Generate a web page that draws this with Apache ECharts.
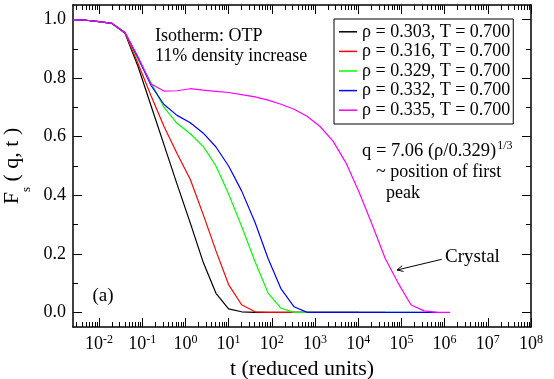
<!DOCTYPE html>
<html>
<head>
<meta charset="utf-8">
<script src="https://cdn.jsdelivr.net/npm/echarts@6/dist/echarts.min.js"></script>
<style>
html,body{margin:0;padding:0;background:#fff;}
#chart{width:554px;height:379px;}
</style>
</head>
<body>
<div id="chart"></div>
<script>
// ---- data ----
const times = [0.0025, 0.005, 0.01, 0.02, 0.04, 0.08, 0.16, 0.32, 0.64, 1.3, 2.6, 5.1, 10, 20, 41, 82, 164, 328, 655, 1310, 2620, 5240, 10500, 21000, 42000, 84000, 168000, 336000, 671000, 1340000];
const seriesNames = ['ρ = 0.303, T = 0.700', 'ρ = 0.316, T = 0.700', 'ρ = 0.329, T = 0.700', 'ρ = 0.332, T = 0.700', 'ρ = 0.335, T = 0.700'];
const rho303 = [1.0, 0.998, 0.993, 0.987, 0.953, 0.84, 0.706, 0.572, 0.438, 0.305, 0.17, 0.065, 0.012, 0.002, 0, 0, 0, 0, 0, 0, 0, 0, 0];
const rho316 = [1.0, 0.998, 0.993, 0.987, 0.954, 0.85, 0.74, 0.635, 0.543, 0.454, 0.333, 0.21, 0.095, 0.026, 0.002, 0, 0, 0, 0, 0, 0, 0, 0, 0, 0];
const rho329 = [1.0, 0.998, 0.993, 0.987, 0.955, 0.865, 0.785, 0.70, 0.646, 0.61, 0.566, 0.50, 0.404, 0.294, 0.173, 0.066, 0.014, 0, 0, 0, 0, 0, 0, 0, 0, 0, 0, 0];
const rho332 = [1.0, 0.998, 0.993, 0.987, 0.956, 0.87, 0.775, 0.71, 0.673, 0.648, 0.612, 0.565, 0.50, 0.415, 0.307, 0.184, 0.08, 0.019, 0, 0, 0, 0, 0, 0, 0, 0, 0, 0, 0];
const rho335 = [1.0, 0.998, 0.993, 0.987, 0.956, 0.873, 0.78, 0.756, 0.757, 0.764, 0.759, 0.755, 0.751, 0.744, 0.736, 0.725, 0.711, 0.694, 0.67, 0.635, 0.585, 0.51, 0.41, 0.30, 0.185, 0.10, 0.025, 0.005, 0, 0];
const seriesColors = ['#000000', '#ff0000', '#00ff00', '#0000ff', '#ff00ff'];
const xMajorTicks = [0.01, 0.1, 1, 10, 100, 1e3, 1e4, 1e5, 1e6, 1e7, 1e8];
const xMinorTicks = [0.003,0.004,0.005,0.006,0.007,0.008,0.009,
  0.02,0.03,0.04,0.05,0.06,0.07,0.08,0.09,
  0.2,0.3,0.4,0.5,0.6,0.7,0.8,0.9,
  2,3,4,5,6,7,8,9,
  20,30,40,50,60,70,80,90,
  200,300,400,500,600,700,800,900,
  2e3,3e3,4e3,5e3,6e3,7e3,8e3,9e3,
  2e4,3e4,4e4,5e4,6e4,7e4,8e4,9e4,
  2e5,3e5,4e5,5e5,6e5,7e5,8e5,9e5,
  2e6,3e6,4e6,5e6,6e6,7e6,8e6,9e6,
  2e7,3e7,4e7,5e7,6e7,7e7,8e7,9e7];
const yMajorTicks = [0, 0.2, 0.4, 0.6, 0.8, 1.0];
const yMinorTicks = [0.1, 0.3, 0.5, 0.7, 0.9];

const valueSets = [rho303, rho316, rho329, rho332, rho335];
const FONT = 'Liberation Serif';

const chart = echarts.init(document.getElementById('chart'), null, {renderer: 'canvas'});

const X_MIN = 0.0025, X_MAX = 1e8, Y_MIN = -0.05, Y_MAX = 1.05;
const axisLineStyle = {show: true, onZero: false, lineStyle: {color: '#000', width: 1.5}};
const noLine = {show: false, onZero: false};
const tickStyle = {color: '#000', width: 1};

function xAxisDef(pos, major, withLabel) {
  const a = {
    type: 'log', logBase: 10, min: X_MIN, max: X_MAX, position: pos, gridIndex: 0,
    axisLine: major ? axisLineStyle : noLine,
    axisTick: {show: true, inside: true, length: major ? 9 : 5, customValues: major ? xMajorTicks : xMinorTicks, lineStyle: tickStyle},
    axisLabel: {show: false},
    splitLine: {show: false}, minorTick: {show: false}
  };
  if (withLabel) {
    a.axisLabel = {
      show: true, customValues: xMajorTicks, margin: 7, hideOverlap: false,
      formatter: function (v) { const e = Math.round(Math.log10(v)); return '{b|10}{s|' + e + '}'; },
      rich: {
        b: {fontFamily: FONT, fontSize: 18, color: '#000', verticalAlign: 'bottom'},
        s: {fontFamily: FONT, fontSize: 12, color: '#000', verticalAlign: 'bottom', padding: [0, 0, 7, 0]}
      }
    };
    a.name = 't (reduced units)';
    a.nameLocation = 'middle';
    a.nameGap = 21;
    a.nameTextStyle = {fontFamily: FONT, fontSize: 22, color: '#000'};
  }
  return a;
}
function yAxisDef(pos, major, withLabel) {
  const a = {
    type: 'value', min: Y_MIN, max: Y_MAX, position: pos, gridIndex: 0,
    axisLine: major ? axisLineStyle : noLine,
    axisTick: {show: true, inside: true, length: major ? 9 : 5, customValues: major ? yMajorTicks : yMinorTicks, lineStyle: tickStyle},
    axisLabel: {show: false},
    splitLine: {show: false}, minorTick: {show: false}
  };
  if (withLabel) {
    a.axisLabel = {
      show: true, customValues: yMajorTicks, margin: 7,
      formatter: function (v) { return v.toFixed(1); },
      fontFamily: FONT, fontSize: 18, color: '#000'
    };
    a.name = '{f|F}{s|s}{f| ( q, t )}';
    a.nameLocation = 'middle';
    a.nameRotate = 90;
    a.nameGap = 25;
    a.nameTextStyle = {
      rich: {
        f: {fontFamily: FONT, fontSize: 22, color: '#000', verticalAlign: 'bottom', padding: [0, 0, 9, 0]},
        s: {fontFamily: FONT, fontSize: 13, color: '#000', verticalAlign: 'bottom'}
      }
    };
  }
  return a;
}

const series = valueSets.map(function (vals, i) {
  return {
    name: seriesNames[i], type: 'line', xAxisIndex: 0, yAxisIndex: 0,
    data: vals.map(function (v, k) { return [times[k], v]; }),
    symbol: 'none', showSymbol: false, smooth: false, animation: false,
    lineStyle: {color: seriesColors[i], width: 1.2},
    itemStyle: {color: seriesColors[i]}, z: 2 + i
  };
});

const txt = (t, x, y, size, rich) => ({type: 'text', x: x, y: y, silent: true, z: 100,
  style: {text: t, fill: '#000', font: size + 'px "' + FONT + '"', verticalAlign: 'middle', align: 'left', rich: rich}});

const option = {
  animation: false,
  backgroundColor: '#fff',
  grid: {left: 73, right: 23, top: 5, bottom: 52, containLabel: false, outerBoundsMode: 'none'},
  xAxis: [xAxisDef('bottom', true, true), xAxisDef('bottom', false, false), xAxisDef('top', true, false), xAxisDef('top', false, false)],
  yAxis: [yAxisDef('left', true, true), yAxisDef('left', false, false), yAxisDef('right', true, false), yAxisDef('right', false, false)],
  legend: {
    show: true, orient: 'vertical', left: 334, top: 19,
    padding: [3, 3, 4, 5], itemGap: 0, itemWidth: 18, itemHeight: 1.5, icon: 'rect',
    borderColor: '#000', borderWidth: 1, backgroundColor: '#fff',
    textStyle: {fontFamily: FONT, fontSize: 18, color: '#000', lineHeight: 19.6},
    data: seriesNames.map(function (n, i) { return {name: n, itemStyle: {color: seriesColors[i]}}; })
  },
  series: series,
  graphic: [
    txt('Isotherm: OTP', 155, 36, 18),
    txt('11% density increase', 155, 56, 18),
    txt('{m|q = 7.06 (ρ/0.329)}{u|1/3}', 362, 150, 18, {
      m: {fontFamily: FONT, fontSize: 18.5, fill: '#000', verticalAlign: 'bottom'},
      u: {fontFamily: FONT, fontSize: 12, fill: '#000', verticalAlign: 'bottom', padding: [0, 0, 9, 1]}
    }),
    txt('~ position of first', 376, 172, 18),
    txt('peak', 386, 193, 18),
    txt('Crystal', 445, 257.5, 19),
    txt('(a)', 92.5, 296.5, 19),
    {type: 'line', silent: true, z: 100, shape: {x1: 441.7, y1: 259.3, x2: 397, y2: 270}, style: {stroke: '#000', lineWidth: 1}},
    {type: 'polyline', silent: true, z: 100, shape: {points: [[403.6, 271.4], [397, 270], [402.2, 265.7]]}, style: {stroke: '#000', lineWidth: 1, fill: null}}
  ]
};
chart.setOption(option);
</script>
</body>
</html>
